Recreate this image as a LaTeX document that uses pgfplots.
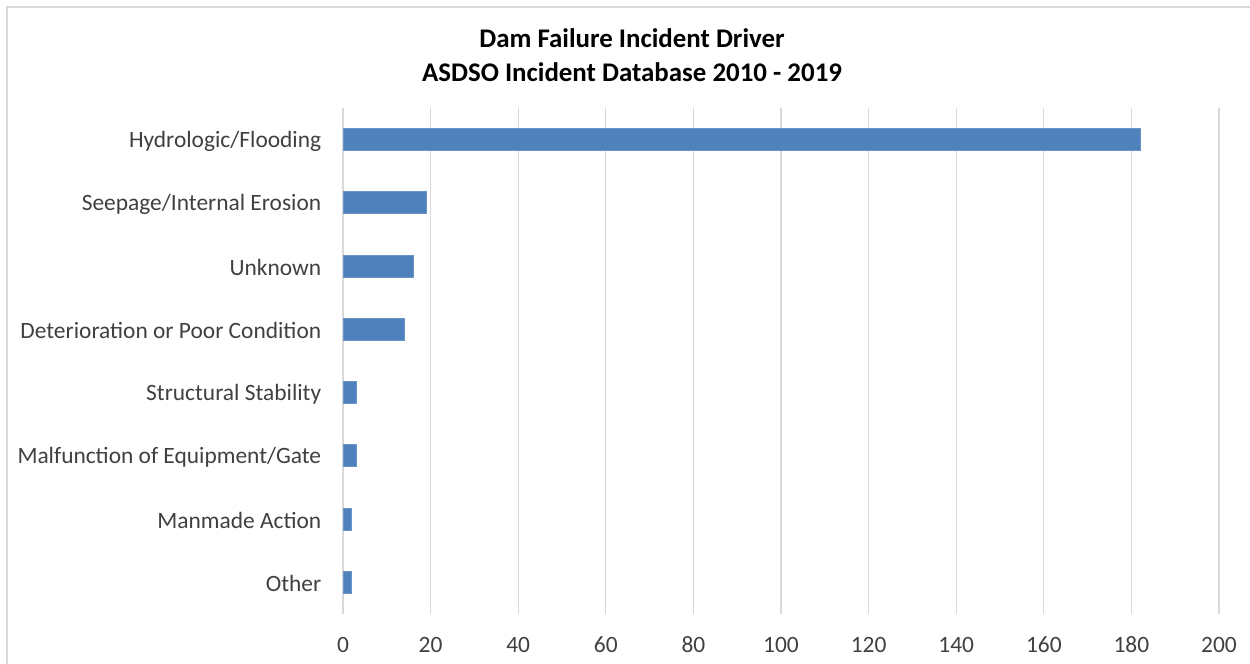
\documentclass[border=0pt]{standalone}
\usepackage{pgfplots}
\pgfplotsset{compat=1.18}
\usepackage{fontspec}
\setmainfont{Carlito}
\definecolor{barblue}{HTML}{4F81BD}
\definecolor{gridgray}{HTML}{D9D9D9}
\definecolor{labelgray}{HTML}{404040}

\begin{document}
\begin{tikzpicture}[x=1bp,y=1bp]
\useasboundingbox (0,0) rectangle (1250,664);
% chart frame (left and top edges)
\draw[gridgray, line width=1.5bp] (7,-5) -- (7,657) -- (1255,657);
% title
\node[font=\fontsize{27}{32}\selectfont\bfseries, text=black] at (632,626) {Dam Failure Incident Driver};
\node[font=\fontsize{27}{32}\selectfont\bfseries, text=black] at (632,592) {ASDSO Incident Database 2010 - 2019};
\begin{axis}[
  at={(343bp,50bp)}, anchor=south west,
  width=876bp, height=506bp, scale only axis,
  xbar, bar width=22bp,
  xmin=0, xmax=200, ymin=-0.5, ymax=7.5,
  xtick={0,20,...,200},
  ytick={0,...,7},
  yticklabels={Other, Manmade Action, Malfunction of Equipment/Gate, Structural Stability, Deterioration or Poor Condition, Unknown, Seepage/Internal Erosion, Hydrologic/Flooding},
  xmajorgrids, major grid style={gridgray, line width=1.2bp},
  axis line style={draw=none},
  major tick style={draw=none},
  /pgf/number format/assume math mode=true,
  ticklabel style={font=\fontsize{23.5}{28}\selectfont, text=labelgray},
  xticklabel style={anchor=base, yshift=-39bp},
  yticklabel style={xshift=-14bp, yshift=-1.5bp},
]
\addplot[fill=barblue, draw=barblue!85!white, line width=0.8bp] coordinates {
  (2,0) (2,1) (3,2) (3,3) (14,4) (16,5) (19,6) (182,7)
};
\end{axis}
\end{tikzpicture}
\end{document}
